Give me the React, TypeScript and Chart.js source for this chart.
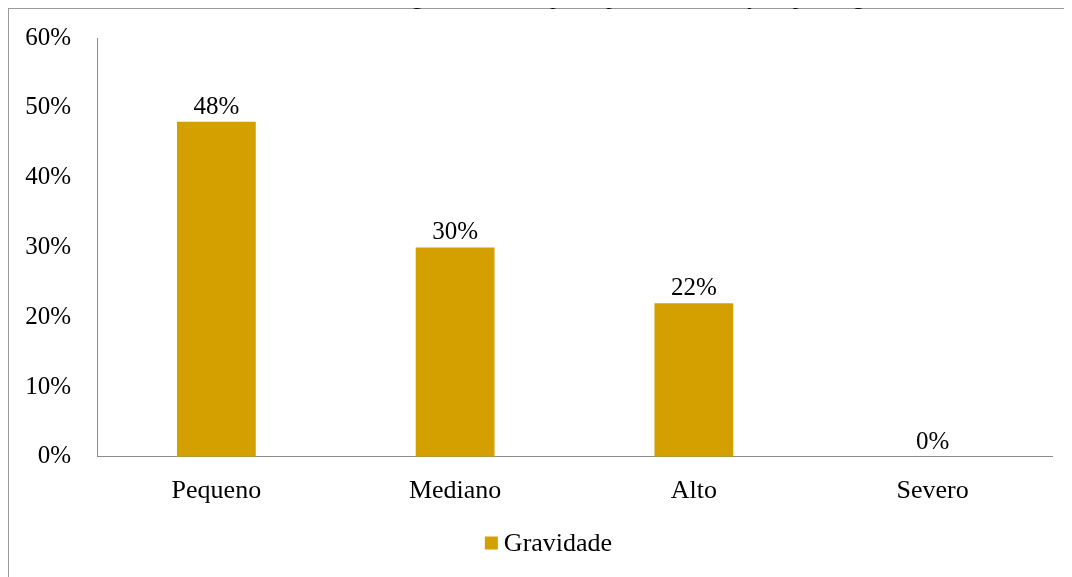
import React, { useEffect, useRef } from "react";
import { Chart, registerables } from "chart.js";

Chart.register(...registerables);

const categories = ["Pequeno", "Mediano", "Alto", "Severo"];
const gravidade = [48, 30, 22, 0];
const yTicks = [0, 10, 20, 30, 40, 50, 60];
const seriesName = "Gravidade";
const titleText = "Gráfico 2 - Percentual de gravidade das principais manifestações patológicas.";

const FONT = "'Liberation Serif', 'Times New Roman', serif";
const BAR_COLOR = "#D4A000";

// Percent labels above each bar
const valueLabels = {
  id: "valueLabels",
  afterDatasetsDraw(chart: any) {
    const ctx = chart.ctx;
    const meta = chart.getDatasetMeta(0);
    ctx.save();
    ctx.font = `25px ${FONT}`;
    ctx.fillStyle = "#000";
    ctx.textAlign = "center";
    ctx.textBaseline = "alphabetic";
    meta.data.forEach((bar: any, i: number) => {
      const v = chart.data.datasets[0].data[i];
      ctx.fillText(`${v}%`, bar.x, bar.y - 8);
    });
    ctx.restore();
  },
};

// Compact bottom legend: small square swatch followed closely by the series name
const bottomLegend = {
  id: "bottomLegend",
  afterDraw(chart: any) {
    const ctx = chart.ctx;
    const ds = chart.data.datasets[0];
    ctx.save();
    ctx.font = `26px ${FONT}`;
    const box = 13;
    const gap = 6;
    const textW = ctx.measureText(ds.label).width;
    const total = box + gap + textW;
    const x0 = (chart.width - total) / 2 + 8;
    const yMid = chart.height - 34;
    ctx.fillStyle = ds.backgroundColor;
    ctx.fillRect(x0, yMid - box / 2, box, box);
    ctx.fillStyle = "#000";
    ctx.textAlign = "left";
    ctx.textBaseline = "middle";
    ctx.fillText(ds.label, x0 + box + gap, yMid + 1);
    ctx.restore();
  },
};

export default function App() {
  const canvasRef = useRef<HTMLCanvasElement | null>(null);

  useEffect(() => {
    if (!canvasRef.current) return;
    const chart = new Chart(canvasRef.current, {
      type: "bar",
      data: {
        labels: categories,
        datasets: [
          {
            label: seriesName,
            data: gravidade,
            backgroundColor: BAR_COLOR,
            borderWidth: 0,
            categoryPercentage: 1,
            barPercentage: 0.33,
          },
        ],
      },
      options: {
        animation: false,
        responsive: false,
        maintainAspectRatio: false,
        layout: { padding: { left: 0, right: 20, top: 29, bottom: 51 } },
        plugins: {
          title: { display: false },
          tooltip: { enabled: false },
          legend: { display: false },
        },
        scales: {
          x: {
            grid: { display: false, drawTicks: false },
            border: { display: true, color: "#8c8c8c", width: 1 },
            ticks: { color: "#000", font: { family: FONT, size: 26 }, padding: 19 },
          },
          y: {
            min: 0,
            max: 60,
            afterBuildTicks: (axis: any) => {
              axis.ticks = yTicks.map((v) => ({ value: v }));
            },
            afterFit: (axis: any) => {
              axis.width = 88;
              axis.paddingTop = 0;
            },
            grid: { display: false, drawTicks: false },
            border: { display: true, color: "#8c8c8c", width: 1 },
            ticks: {
              color: "#000",
              font: { family: FONT, size: 25 },
              padding: 26,
              callback: (v: any) => `${v}%`,
            },
          },
        },
      },
      plugins: [valueLabels, bottomLegend],
    });
    return () => chart.destroy();
  }, []);

  return (
    <div style={{ position: "relative" }}>
      <div
        style={{
          position: "absolute",
          left: -8,
          top: -26,
          width: 1072,
          textAlign: "center",
          fontFamily: FONT,
          fontSize: 24,
          lineHeight: "28px",
          color: "#000",
          whiteSpace: "nowrap",
        }}
      >
        {titleText}
      </div>
      <div
        style={{
          width: 1063,
          height: 568,
          borderLeft: "1px solid #9a9a9a",
          borderTop: "1px solid #9a9a9a",
          overflow: "hidden",
        }}
      >
        <canvas ref={canvasRef} width={1063} height={568} style={{ display: "block" }} />
      </div>
    </div>
  );
}
